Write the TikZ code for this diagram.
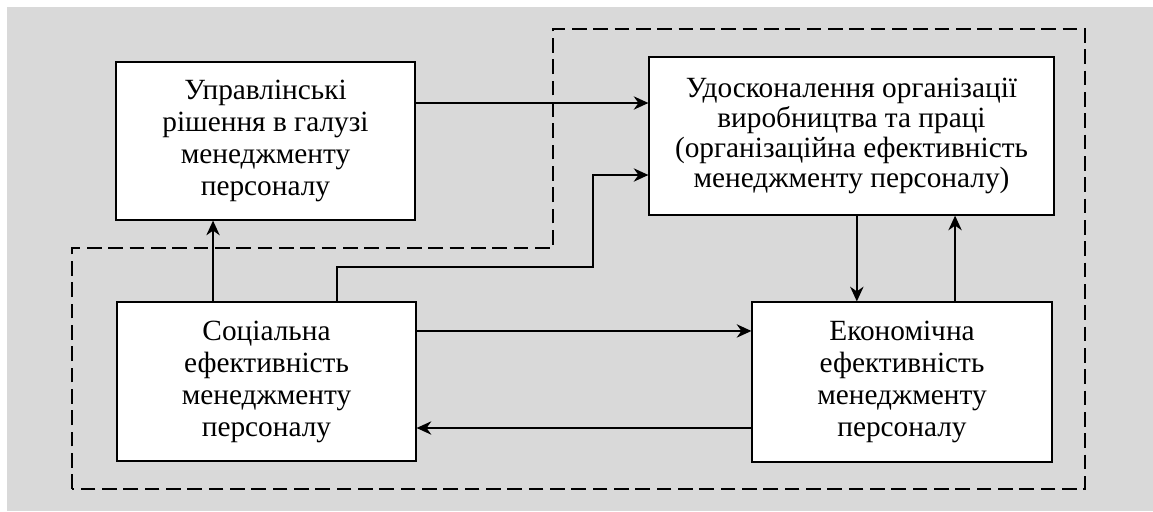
\documentclass[tikz,border=0pt]{standalone}
\usepackage{fontspec}
\setmainfont{Liberation Serif}
\usepackage{tikz}
\usetikzlibrary{arrows.meta,positioning,calc}
\definecolor{panelgray}{RGB}{217,217,217}

\begin{document}
\begin{tikzpicture}[
    x=0.75pt, y=-0.75pt,
    box/.style={draw=black, line width=0.9pt, fill=white, align=center, inner sep=0pt,
                font=\fontsize{22}{24}\selectfont},
    arr/.style={line width=1.4pt, -{Stealth[length=11pt, width=10pt, inset=3.5pt]}},
    border/.style={line width=1.4pt, dash pattern=on 11pt off 5pt}
]
    % Canvas
    \useasboundingbox (0,0) rectangle (1153,511);
    \fill[panelgray] (7,7) rectangle (1153,511);

    % Dashed contour
    \draw[border] (72,489) -- (72,248) -- (553,248) -- (553,29) -- (1085,29) -- (1085,489) -- cycle;

    % Blocks
    \node[box, minimum width=299*0.75pt, minimum height=158*0.75pt] (upr) at (265.5,141)
        {Управлінські\\рішення в галузі\\менеджменту\\персоналу};
    \node[box, minimum width=405*0.75pt, minimum height=158*0.75pt,
          font=\fontsize{22}{22.5}\selectfont] (org) at (851.5,136)
        {Удосконалення організації\\виробництва та праці\\(організаційна ефективність\\менеджменту персоналу)};
    \node[box, minimum width=299*0.75pt, minimum height=159*0.75pt] (soc) at (266.5,381.5)
        {Соціальна\\ефективність\\менеджменту\\персоналу};
    \node[box, minimum width=300*0.75pt, minimum height=160*0.75pt] (eko) at (902,382)
        {Економічна\\ефективність\\менеджменту\\персоналу};

    % Bend point of the social -> organisation line
    \coordinate (bend) at (593,267);

    % Arrows
    \draw[arr] ([yshift=28.5pt]upr.east) -- ([yshift=28.5pt]upr.east -| org.west);
    \draw[arr] ([xshift=52.9pt]soc.north) |- (bend) |- ([yshift=-29.25pt]org.west);
    \draw[arr] ([xshift=-40.1pt]soc.north) -- ([xshift=-40.1pt]soc.north |- upr.south);
    \draw[arr] ([xshift=4pt]org.south) -- ([xshift=4pt]org.south |- eko.north);
    \draw[arr] ([xshift=39.8pt]eko.north) -- ([xshift=39.8pt]eko.north |- org.south);
    \draw[arr] ([yshift=37.9pt]soc.east) -- ([yshift=37.9pt]soc.east -| eko.west);
    \draw[arr] ([yshift=-34.5pt]eko.west) -- ([yshift=-34.5pt]eko.west -| soc.east);

\end{tikzpicture}
\end{document}
